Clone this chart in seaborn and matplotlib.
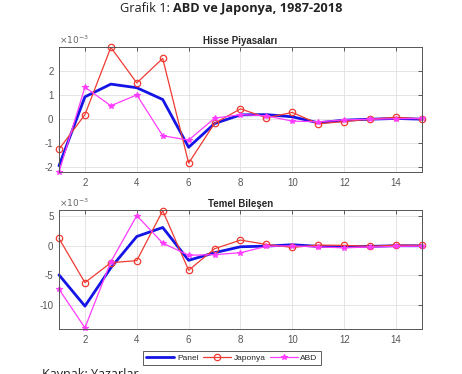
import matplotlib
matplotlib.use("Agg")
import matplotlib.pyplot as plt
import numpy as np
import pandas as pd
import seaborn as sns

# DATA (values in units of 1e-3)
donem = list(range(1, 16))
hisse_panel = [-1.94, 0.93, 1.46, 1.31, 0.82, -1.17, -0.18, 0.18, 0.19, 0.10, -0.15, -0.04, 0.0, 0.03, 0.0]
hisse_japonya = [-1.25, 0.19, 2.99, 1.51, 2.53, -1.83, -0.17, 0.43, 0.06, 0.28, -0.19, -0.10, 0.0, 0.08, 0.01]
hisse_abd = [-2.20, 1.33, 0.56, 1.01, -0.69, -0.87, 0.04, 0.19, 0.14, -0.08, -0.11, -0.03, 0.0, 0.02, 0.03]

temel_panel = [-4.9, -10.15, -3.7, 1.56, 3.07, -2.45, -1.17, -0.17, -0.06, 0.17, -0.10, -0.17, -0.10, 0.0, 0.0]
temel_japonya = [1.23, -6.2, -2.85, -2.5, 5.9, -4.13, -0.5, 0.95, 0.22, -0.28, 0.11, 0.06, -0.10, 0.11, 0.06]
temel_abd = [-7.3, -13.8, -2.7, 5.07, 0.45, -1.6, -1.5, -1.17, -0.10, 0.0, -0.22, -0.33, -0.22, -0.10, -0.06]

seri_adlari = ["Panel", "Japonya", "ABD"]

sns.set_style("white")
plt.rcParams['font.family'] = ['Liberation Sans', 'DejaVu Sans']
plt.rcParams['axes.unicode_minus'] = False

fig = plt.figure(figsize=(4.62, 3.74), dpi=100)
ax1 = fig.add_axes([0.1277, 0.540, 0.7857, 0.334])
ax2 = fig.add_axes([0.1277, 0.1203, 0.7857, 0.318])

renk = {"Panel": "#1414e6", "Japonya": "#ee3b32", "ABD": "#ff3cff"}
kalinlik = {"Panel": 2.0, "Japonya": 0.9, "ABD": 0.9}
isaret = {
    "Panel": dict(marker=""),
    "Japonya": dict(marker="o", markersize=4.6, markerfacecolor="none",
                    markeredgecolor="#ee3b32", markeredgewidth=0.9),
    "ABD": dict(marker="*", markersize=4.2, markerfacecolor="#ff3cff",
                markeredgecolor="#ff3cff", markeredgewidth=0.8),
}

def ciz(ax, veri, baslik, ylim, yticks):
    for ad, y in zip(seri_adlari, veri):
        sns.lineplot(x=donem, y=y, ax=ax, label=ad, color=renk[ad],
                     lw=kalinlik[ad])
        ln = ax.get_lines()[-1]
        ln.set_linestyle("-")
        ln.set_clip_on(False)
        for k, v in isaret[ad].items():
            getattr(ln, "set_" + k)(v)
    ax.set_xlim(1, 15)
    ax.set_ylim(*ylim)
    ax.set_xticks([2, 4, 6, 8, 10, 12, 14])
    ax.set_yticks(yticks)
    ax.grid(True, color="#e0e0e0", lw=0.6)
    ax.tick_params(direction="in", length=3, width=0.6, labelsize=7,
                   colors="#444444", top=True, right=True, pad=4)
    ax.tick_params(labelcolor="#555555")
    for s in ax.spines.values():
        s.set_color("#555555")
        s.set_linewidth(0.7)
    ax.set_title(baslik, fontsize=7, fontweight="bold", pad=2.5)
    ax.text(0.0, 1.01, r"$\times10^{-3}$", transform=ax.transAxes,
            fontsize=6.5, color="#666666", ha="left", va="bottom")
    ax.set_xlabel("")
    ax.set_ylabel("")
    ax.get_legend().remove()

ciz(ax1, [hisse_panel, hisse_japonya, hisse_abd], "Hisse Piyasaları",
    (-2.2, 3.0), [-2, -1, 0, 1, 2])
ciz(ax2, [temel_panel, temel_japonya, temel_abd], "Temel Bileşen",
    (-14, 6), [-10, -5, 0, 5])

h, l = ax1.get_legend_handles_labels()
leg = fig.legend(h, l, loc="center", bbox_to_anchor=(0.502, 0.043), ncol=3,
                 fontsize=6, frameon=True, fancybox=False, handlelength=3.4,
                 columnspacing=0.5, handletextpad=0.3, borderpad=0.35)
leg.get_frame().set_edgecolor("#333333")
leg.get_frame().set_linewidth(0.7)

# title: regular + bold parts, centred together
baslik_font = ['Open Sans', 'DejaVu Sans']
r = fig.canvas.get_renderer()
t1 = fig.text(0, 0.977, "Grafik 1: ", ha="left", va="center", fontsize=9.2,
              family=baslik_font, color="#222222")
t2 = fig.text(0, 0.977, "ABD ve Japonya, 1987-2018", ha="left", va="center",
              fontsize=9.2, fontweight="bold", family=baslik_font, color="#222222")
w1 = t1.get_window_extent(r).width
w2 = t2.get_window_extent(r).width
x0 = 231 - (w1 + w2) / 2
t1.set_x(x0 / 462)
t2.set_x((x0 + w1) / 462)

fig.text(0.09, -0.02, "Kaynak: Yazarlar", ha="left", va="bottom", fontsize=9,
         family=baslik_font, color="#222222")

fig.savefig("out.png", dpi=100)
